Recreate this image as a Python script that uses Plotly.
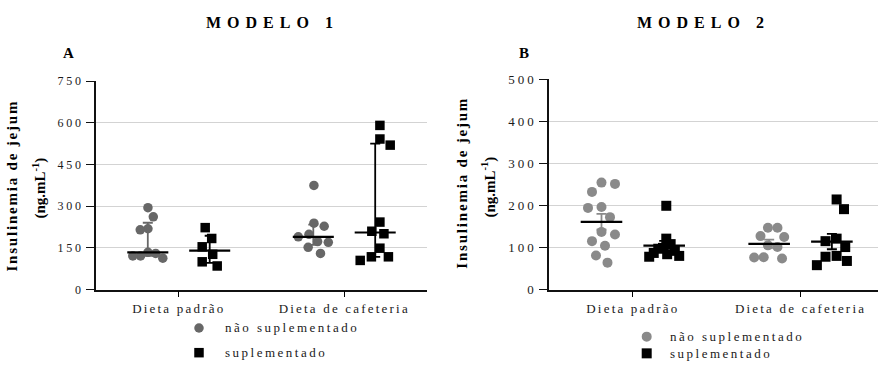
import json
import numpy as np
import plotly.graph_objects as go

W, H = 878, 377

# ---------------- data ----------------
diets = ["Dieta padrão", "Dieta de cafeteria"]
groups = ["não suplementado", "suplementado"]

# Modelo 1 (A): insulinemia de jejum, ng/mL
m1_padrao_nao = [295, 262, 219, 215, 134, 130, 121, 121, 113]
m1_padrao_sup = [223, 184, 154, 127, 100, 85]
m1_cafe_nao = [375, 239, 228, 199, 190, 173, 170, 152, 130]
m1_cafe_sup = [591, 542, 520, 243, 210, 201, 149, 118, 118, 105]

# Modelo 2 (B)
m2_padrao_nao = [254, 251, 232, 196, 194, 172, 137, 131, 115, 104, 81, 64]
m2_padrao_sup = [199, 121, 108, 99, 97, 92, 87, 84, 80, 78]
m2_cafe_nao = [147, 147, 127, 125, 105, 101, 77, 76, 74]
m2_cafe_sup = [214, 191, 121, 115, 101, 80, 78, 68, 58]

yticks_a = [0, 150, 300, 450, 600, 750]
yticks_b = [0, 100, 200, 300, 400, 500]

# ---------------- layout geometry (pixels) ----------------
SERIF = "Liberation Serif, serif"
GRAY_A = "#676767"
GRAY_B = "#8a8a8a"
BLACK = "#000000"
MAX_SPREAD_PX = 15


def px_x(p):
    return p / W


def px_y(p):
    return 1 - p / H


panels = {
    "A": dict(xdom=(96, 427), ydom=(294.3, 77.3), xr=[-0.5, 1.5], yr=[0, 750],
              ticks=yticks_a, gray=GRAY_A, size=9.5,
              data=[m1_padrao_nao, m1_padrao_sup, m1_cafe_nao, m1_cafe_sup],
              stat="median"),
    "B": dict(xdom=(549, 878), ydom=(294.3, 75.0), xr=[-0.5, 1.462], yr=[0, 500],
              ticks=yticks_b, gray=GRAY_B, size=10,
              data=[m2_padrao_nao, m2_padrao_sup, m2_cafe_nao, m2_cafe_sup],
              stat="mean"),
}


def swarm(values, ppu_y, ppu_x, dist, limit):
    """Beeswarm offsets (category units), squeezed to a maximum half-width."""
    placed = []
    for v in values:
        y = v * ppu_y
        found = None
        k = 0
        while found is None:
            cands = [0.0] if k == 0 else [k * 0.5, -k * 0.5]
            if sum(p[0] for p in placed) > 0:
                cands = sorted(cands)
            for x in cands:
                if all((x - px) ** 2 + (y - py) ** 2 >= dist ** 2 for px, py in placed):
                    found = x
                    break
            k += 1
        placed.append((found, y))
    xs = np.array([p[0] for p in placed])
    xs = xs - (xs.max() + xs.min()) / 2
    widest = np.abs(xs).max()
    if widest > limit:
        xs = xs * limit / widest
    return list(xs / ppu_x)


def summary(vals, stat):
    a = np.asarray(vals, dtype=float)
    if stat == "median":
        c = float(np.median(a))
        lo, hi = np.percentile(a, [25, 75], method="weibull")
        return c, c - float(lo), float(hi) - c
    c = float(a.mean())
    sem = float(a.std(ddof=1) / np.sqrt(len(a)))
    return c, sem, sem


fig = go.Figure()
layout_axes = {}
shift = 0.187

for i, (key, p) in enumerate(panels.items()):
    xa = "x" if i == 0 else "x2"
    ya = "y" if i == 0 else "y2"
    x0p, x1p = p["xdom"]
    ybot, ytop = p["ydom"]
    ppu_x = (x1p - x0p) / (p["xr"][1] - p["xr"][0])
    ppu_y = (ybot - ytop) / (p["yr"][1] - p["yr"][0])

    for j, vals in enumerate(p["data"]):
        diet_idx = j // 2
        is_sup = j % 2 == 1
        cx = diet_idx + (shift if is_sup else -shift)
        color = BLACK if is_sup else p["gray"]
        offs = swarm(vals, ppu_y, ppu_x, p["size"] * 1.35, MAX_SPREAD_PX)
        fig.add_trace(go.Scatter(
            x=[cx + o for o in offs], y=vals, mode="markers", xaxis=xa, yaxis=ya,
            marker=dict(symbol="square" if is_sup else "circle", size=p["size"],
                        color=color, line=dict(width=0)),
            showlegend=False, hoverinfo="skip", cliponaxis=False,
        ))
        c, em, ep = summary(vals, p["stat"])
        fig.add_trace(go.Scatter(
            x=[cx], y=[c], mode="markers", xaxis=xa, yaxis=ya,
            marker=dict(size=0.1, color=color, opacity=0),
            error_y=dict(type="data", symmetric=False, array=[ep], arrayminus=[em],
                         color=color, thickness=1.8, width=5),
            showlegend=False, hoverinfo="skip",
        ))
        fig.add_trace(go.Scatter(
            x=[cx - 0.124, cx + 0.124], y=[c, c], mode="lines", xaxis=xa, yaxis=ya,
            line=dict(color=BLACK, width=2.2),
            showlegend=False, hoverinfo="skip",
        ))

    layout_axes["xaxis" if i == 0 else "xaxis2"] = dict(
        domain=[px_x(x0p), px_x(x1p)], range=p["xr"], anchor=ya,
        tickvals=[0, 1], ticktext=diets, ticks="outside", ticklen=6, tickwidth=1.3,
        tickcolor=BLACK, showline=True, linecolor="#111111", linewidth=1.5,
        showgrid=False, zeroline=False,
        tickfont=dict(family=SERIF, size=13, color="#1a1a1a"),
    )
    layout_axes["yaxis" if i == 0 else "yaxis2"] = dict(
        domain=[px_y(ybot), px_y(ytop)], range=p["yr"], anchor=xa,
        tickvals=p["ticks"], ticks="outside", ticklen=8, tickwidth=1.3,
        tickcolor="#111111", showline=True, linecolor="#111111", linewidth=1.5,
        showgrid=True, gridcolor="#d3d3d3", gridwidth=1, zeroline=False,
        tickfont=dict(family=SERIF, size=12 if key == "A" else 13, color="#1a1a1a"),
    )

annotations = []
shapes = []


def note(text, x, y, size, bold=False, angle=0, xanchor="center", align="center", color=BLACK):
    annotations.append(dict(
        text=f"<b>{text}</b>" if bold else text, x=px_x(x), y=px_y(y),
        xref="paper", yref="paper", xanchor=xanchor, yanchor="middle",
        align=align, showarrow=False, textangle=angle,
        font=dict(family=SERIF, size=size, color=color),
    ))


# headings
note("MODELO 1", 272, 16, 16, bold=True)
note("MODELO 2", 703, 16, 16, bold=True)
note("A", 68, 48, 15, bold=True)
note("B", 524, 48, 15, bold=True)

# y-axis titles (two lines, set apart)
for xl1, yl1, xl2, yl2 in [(12, 186, 39, 189), (462, 183, 489, 188)]:
    note("Insulinemia de jejum", xl1, yl1, 15, bold=True, angle=-90)
    note("(ng.mL<sup>-1</sup>)", xl2, yl2, 15, bold=True, angle=-90)

# legends
legend_pos = [
    (199, 334.3, 360.0, 223, GRAY_A, 9.5),
    (646.7, 343.3, 360.7, 668, GRAY_B, 10),
]
for gx, gy1, gy2, tx, gcol, s in legend_pos:
    h = s / 2
    shapes.append(dict(type="circle", xref="paper", yref="paper",
                       xsizemode="pixel", ysizemode="pixel",
                       xanchor=px_x(gx), yanchor=px_y(gy1),
                       x0=-h, x1=h, y0=-h, y1=h,
                       fillcolor=gcol, line=dict(width=0)))
    shapes.append(dict(type="rect", xref="paper", yref="paper",
                       xsizemode="pixel", ysizemode="pixel",
                       xanchor=px_x(gx), yanchor=px_y(gy2),
                       x0=-h, x1=h, y0=-h, y1=h,
                       fillcolor=BLACK, line=dict(width=0)))
    note(groups[0], tx, gy1, 13, xanchor="left", align="left", color="#1a1a1a")
    note(groups[1], tx, gy2, 13, xanchor="left", align="left", color="#1a1a1a")

fig.update_layout(
    width=W, height=H, margin=dict(l=0, r=0, t=0, b=0),
    paper_bgcolor="white", plot_bgcolor="white",
    annotations=annotations, shapes=shapes, showlegend=False,
    **layout_axes,
)

# letter spacing (tracking) for the spaced-out typography
tracking = {
    "MODELO 1": 6, "MODELO 2": 6,
    "Insulinemia de jejum": 1.8, "(ng.mL-1)": 2,
    "não suplementado": 2.5, "suplementado": 2.5,
}
post = """
var gd = document.getElementById('{plot_id}');
var track = TRACKING;
function applyTracking() {
  gd.querySelectorAll('.xtick text, .x2tick text').forEach(function (t) { t.style.letterSpacing = '2.2px'; });
  gd.querySelectorAll('.ytick text').forEach(function (t) { t.style.letterSpacing = '2.8px'; });
  gd.querySelectorAll('.y2tick text').forEach(function (t) { t.style.letterSpacing = '3px'; });
  gd.querySelectorAll('.annotation-text').forEach(function (t) {
    var k = t.textContent;
    if (track.hasOwnProperty(k)) { t.style.letterSpacing = track[k] + 'px'; }
  });
}
applyTracking();
gd.on('plotly_afterplot', applyTracking);
""".replace("TRACKING", json.dumps(tracking))

fig.write_html("out.html", post_script=post, config={"displayModeBar": False, "responsive": False})
